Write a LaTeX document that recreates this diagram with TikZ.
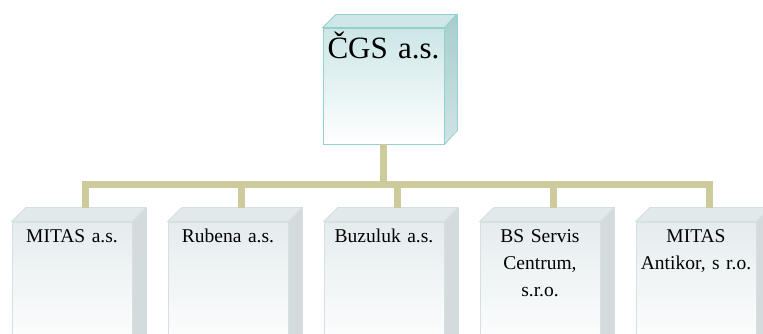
\documentclass[tikz,border=0pt]{standalone}
\usepackage{fontspec}
\setmainfont{Liberation Serif}
\usetikzlibrary{positioning}
\definecolor{busline}{HTML}{CDCB9B}
\definecolor{headedge}{HTML}{94D0CD}
\definecolor{headfront}{HTML}{CCE6E6}
\definecolor{headtop}{HTML}{CFE7E7}
\definecolor{headside}{HTML}{A8CDCD}
\definecolor{firmedge}{HTML}{D5E0E2}
\definecolor{firmfront}{HTML}{E5ECEE}
\definecolor{firmtop}{HTML}{E1E9EB}
\definecolor{firmside}{HTML}{D3DBDD}
\begin{document}
\begin{tikzpicture}[x=1pt,y=1pt]
			\tikzstyle{firm}=[draw=firmedge,line width=0.8pt,top color=firmfront,bottom color=white,inner sep=0pt,text width=120pt,align=center,font=\fontsize{19.5}{27}\selectfont,text height=21pt,text depth=109pt]
			\tikzstyle{head}=[firm,draw=headedge,top color=headfront,text width=121pt,font=\fontsize{31}{36}\selectfont,text height=31pt,text depth=85pt]
			\tikzstyle{bus}=[draw=busline,line width=7pt]
			\useasboundingbox (0,0) rectangle (763,334);
			\clip (0,0) rectangle (763,334);
			
			\node[head] (cgs) at (383.5,248) {ČGS a.s.};
			\node[firm] (mitas) at (72,47) {MITAS a.s.};
			\node[firm,node distance=156pt] (rubena) [right of = mitas] {Rubena a.s.};
			\node[firm,node distance=156pt] (buzuluk) [right of = rubena] {Buzuluk a.s.};
			\node[firm,node distance=156pt] (bsservis) [right of = buzuluk] {BS Servis\\Centrum,\\s.r.o.};
			\node[firm,node distance=156pt] (antikor) [right of = bsservis] {MITAS\\Antikor, s r.o.};
			
			% 3D faces
			\shade[top color=headside,bottom color=headside!55!white,draw=headedge,line width=0.8pt] (cgs.north east) -- ++(13,13) -- ++(0,-116) -- (cgs.south east) -- cycle;
			\fill[headtop,draw=headedge,line width=0.8pt] (cgs.north west) -- ++(13,13) -- ++(121,0) -- (cgs.north east) -- cycle;
			\foreach \n in {mitas,rubena,buzuluk,bsservis,antikor}{
				\fill[firmside,draw=firmedge,line width=0.8pt] (\n.north east) -- ++(14,14) -- ++(0,-130) -- (\n.south east) -- cycle;
				\fill[firmtop,draw=firmedge,line width=0.8pt] (\n.north west) -- ++(14,14) -- ++(120,0) -- (\n.north east) -- cycle;
				\coordinate (\n-t) at ([shift={(74,14)}]\n.north west);
			}
			
			\coordinate (join) at (383.5,149.5);
			\draw[bus] (cgs.south) -- (join);
			\foreach \n in {mitas,rubena,buzuluk,bsservis,antikor}
				\draw[bus] (join) -| (\n-t);
			
			\end{tikzpicture}
\end{document}
